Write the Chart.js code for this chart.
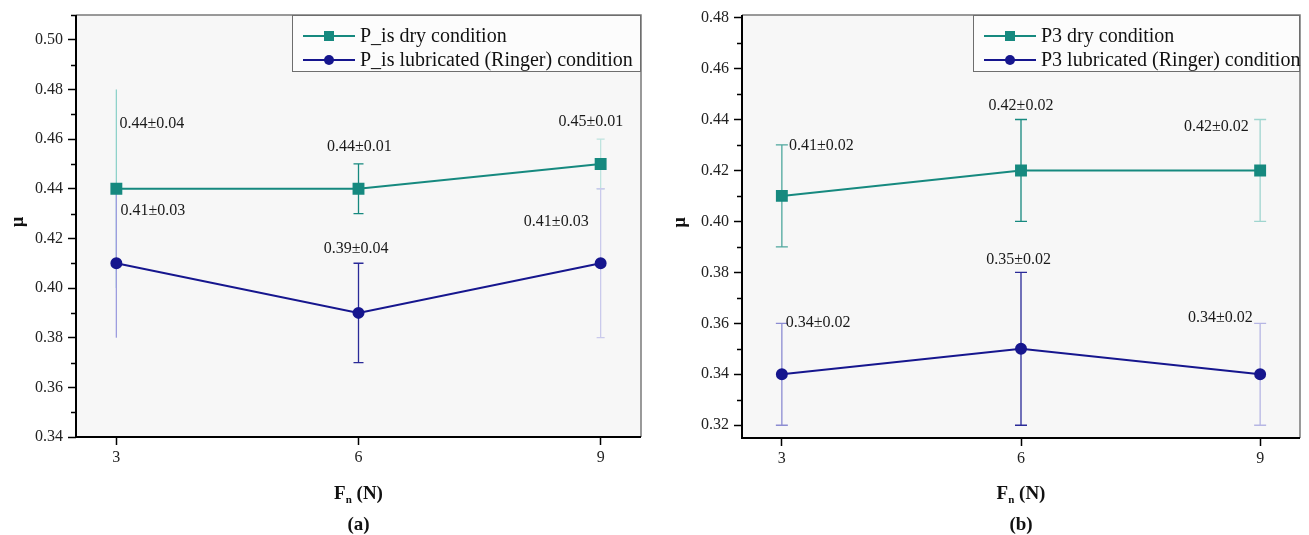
<!DOCTYPE html>
<html>
<head>
<meta charset="utf-8">
<script src="https://cdn.jsdelivr.net/npm/chart.js@4.4.0/dist/chart.umd.min.js"></script>
<style>
  body { margin: 0; background: #fff; }
  #wrap { position: relative; width: 1309px; height: 535px; }
  canvas { position: absolute; top: 0; }
</style>
</head>
<body>
<div id="wrap">
  <canvas id="chartA" width="650" height="535" style="left:0"></canvas>
  <canvas id="chartB" width="659" height="535" style="left:650px"></canvas>
</div>
<script>
// normal load Fn (N)
const loads = [3, 6, 9];

// panel (a): P_is
const dryA = [0.44, 0.44, 0.45];
const dryErrA = [0.04, 0.01, 0.01];
const lubA = [0.41, 0.39, 0.41];
const lubErrA = [0.03, 0.02, 0.03];
const dryTextA = ['0.44±0.04', '0.44±0.01', '0.45±0.01'];
const lubTextA = ['0.41±0.03', '0.39±0.04', '0.41±0.03'];

// panel (b): P3
const dryB = [0.41, 0.42, 0.42];
const dryErrB = [0.02, 0.02, 0.02];
const lubB = [0.34, 0.35, 0.34];
const lubErrB = [0.02, 0.03, 0.02];
const dryTextB = ['0.41±0.02', '0.42±0.02', '0.42±0.02'];
const lubTextB = ['0.34±0.02', '0.35±0.02', '0.34±0.02'];

const TEAL = '#16897f';
const NAVY = '#16168e';
const SERIF = '"Liberation Serif", "Times New Roman", serif';

const toPts = (ys) => loads.map((x, i) => ({ x: x, y: ys[i] }));

// draws background, error bars, value notes, frame, minor ticks, legend and titles
const panelPlugin = {
  id: 'panel',
  beforeDraw(chart, args, o) {
    const { ctx, chartArea: a } = chart;
    ctx.save();
    ctx.fillStyle = '#f7f7f7';
    ctx.fillRect(a.left, a.top, a.right - a.left, a.bottom - a.top);
    ctx.restore();
  },
  beforeDatasetsDraw(chart) {
    const { ctx, scales: { x, y } } = chart;
    ctx.save();
    chart.data.datasets.forEach(ds => {
      ds.data.forEach((p, i) => {
        const px = x.getPixelForValue(p.x);
        const top = y.getPixelForValue(p.y + ds.err[i]);
        const bot = y.getPixelForValue(p.y - ds.err[i]);
        ctx.strokeStyle = ds.errColors[i];
        ctx.lineWidth = 1.3;
        ctx.beginPath();
        ctx.moveTo(px, top); ctx.lineTo(px, bot);
        const c = ds.caps[i];
        if (c) {
          ctx.moveTo(px - c, top); ctx.lineTo(px + c, top);
          ctx.moveTo(px - c, bot); ctx.lineTo(px + c, bot);
        }
        ctx.stroke();
      });
    });
    ctx.restore();
  },
  afterDatasetsDraw(chart, args, o) {
    const { ctx, chartArea: a, scales: { x, y } } = chart;
    ctx.save();

    // value notes
    ctx.font = '16px ' + SERIF;
    ctx.fillStyle = '#1a1a1a';
    ctx.textBaseline = 'middle';
    chart.data.datasets.forEach(ds => {
      ds.notes.forEach((t, i) => {
        const [nx, ny, al] = ds.notePos[i];
        ctx.textAlign = al;
        ctx.fillText(t, x.getPixelForValue(nx), y.getPixelForValue(ny));
      });
    });

    // frame
    ctx.lineWidth = 1.5;
    ctx.strokeStyle = '#7a7a7a';
    ctx.beginPath();
    ctx.moveTo(a.left, a.top); ctx.lineTo(a.right, a.top); ctx.lineTo(a.right, a.bottom);
    ctx.stroke();
    ctx.lineWidth = 2;
    ctx.strokeStyle = '#000';
    ctx.beginPath();
    ctx.moveTo(a.left, a.top); ctx.lineTo(a.left, a.bottom); ctx.lineTo(a.right, a.bottom);
    ctx.stroke();

    // minor y ticks
    ctx.lineWidth = 1.5;
    ctx.beginPath();
    y.ticks.forEach(t => {
      if (Math.round(t.value * 100) % 2 !== 0) {
        const py = Math.round(y.getPixelForValue(t.value)) + 0.5;
        ctx.moveTo(a.left - 5, py); ctx.lineTo(a.left, py);
      }
    });
    ctx.stroke();

    // legend box
    const lg = o.legend;
    const bx = lg.x, by = a.top, bw = a.right - lg.x, bh = 57;
    ctx.fillStyle = 'rgba(252,252,252,0.9)';
    ctx.fillRect(bx, by, bw, bh);
    ctx.strokeStyle = '#6e6e6e';
    ctx.lineWidth = 1;
    ctx.strokeRect(bx + 0.5, by + 0.5, bw - 1, bh - 1);
    chart.data.datasets.forEach((ds, i) => {
      const ry = by + 21 + i * 24;
      ctx.strokeStyle = ds.borderColor;
      ctx.lineWidth = 2;
      ctx.beginPath();
      ctx.moveTo(bx + 11, ry); ctx.lineTo(bx + 63, ry);
      ctx.stroke();
      ctx.fillStyle = ds.borderColor;
      if (ds.pointStyle === 'rect') {
        ctx.fillRect(bx + 37 - 5, ry - 5, 10, 10);
      } else {
        ctx.beginPath();
        ctx.arc(bx + 37, ry, 5, 0, Math.PI * 2);
        ctx.fill();
      }
      ctx.fillStyle = '#111';
      ctx.font = '20px ' + SERIF;
      ctx.textAlign = 'left';
      ctx.textBaseline = 'middle';
      ctx.fillText(ds.label, bx + 68, ry + 1);
    });

    // axis titles
    ctx.fillStyle = '#111';
    ctx.save();
    ctx.translate(o.muX, (a.top + a.bottom) / 2 - 4);
    ctx.rotate(-Math.PI / 2);
    ctx.font = 'bold 18px ' + SERIF;
    ctx.textAlign = 'center';
    ctx.textBaseline = 'middle';
    ctx.fillText('μ', 0, 0);
    ctx.restore();

    const cx = (a.left + a.right) / 2;
    const big = 'bold 19px ' + SERIF, small = 'bold 11px ' + SERIF;
    ctx.font = big; const wF = ctx.measureText('F').width;
    const wR = ctx.measureText(' (N)').width;
    ctx.font = small; const wn = ctx.measureText('n').width;
    let sx = cx - (wF + wn + wR) / 2;
    ctx.textAlign = 'left';
    ctx.textBaseline = 'alphabetic';
    ctx.font = big; ctx.fillText('F', sx, 499);
    ctx.font = small; ctx.fillText('n', sx + wF, 503);
    ctx.font = big; ctx.fillText(' (N)', sx + wF + wn, 499);
    ctx.textAlign = 'center';
    ctx.fillText(o.tag, cx, 530);

    ctx.restore();
  }
};

function makePanel(id, cfg) {
  const tickFont = { family: SERIF, size: 16 };
  return new Chart(document.getElementById(id), {
    type: 'line',
    data: {
      datasets: [
        {
          label: cfg.names[0],
          data: toPts(cfg.dry),
          err: cfg.dryErr,
          errColors: cfg.dryErrColors,
          caps: cfg.caps,
          notes: cfg.dryText,
          notePos: cfg.dryNotePos,
          borderColor: TEAL,
          backgroundColor: TEAL,
          borderWidth: 2,
          pointStyle: 'rect',
          pointRadius: 7,
          tension: 0
        },
        {
          label: cfg.names[1],
          data: toPts(cfg.lub),
          err: cfg.lubErr,
          errColors: cfg.lubErrColors,
          caps: cfg.caps,
          notes: cfg.lubText,
          notePos: cfg.lubNotePos,
          borderColor: NAVY,
          backgroundColor: NAVY,
          borderWidth: 2,
          pointStyle: 'circle',
          pointRadius: 5,
          tension: 0
        }
      ]
    },
    options: {
      responsive: false,
      animation: false,
      events: [],
      layout: { padding: { top: 15, right: cfg.padRight, left: 0, bottom: 0 } },
      plugins: {
        legend: { display: false },
        tooltip: { enabled: false },
        panel: { legend: { x: cfg.legendX }, muX: cfg.muX, tag: cfg.tag }
      },
      scales: {
        x: {
          type: 'linear',
          min: 2.5,
          max: 9.5,
          afterBuildTicks: s => { s.ticks = loads.map(v => ({ value: v })); },
          afterFit: s => { s.height = cfg.xHeight; },
          border: { display: false },
          grid: { drawOnChartArea: false, drawTicks: true, tickLength: 8, tickColor: '#000', tickWidth: 1.5 },
          ticks: { font: tickFont, color: '#222', padding: 3, maxRotation: 0, autoSkip: false }
        },
        y: {
          min: cfg.yMin,
          max: cfg.yMax,
          afterFit: s => { s.width = cfg.yWidth; },
          border: { display: false },
          grid: {
            drawOnChartArea: false,
            drawTicks: true,
            tickLength: 8,
            tickWidth: 1.5,
            tickColor: c => (Math.round(c.tick.value * 100) % 2 === 0 ? '#000' : 'rgba(0,0,0,0)')
          },
          ticks: {
            stepSize: 0.01,
            includeBounds: false,
            autoSkip: false,
            font: tickFont,
            color: '#222',
            padding: 5,
            callback: v => (Math.round(v * 100) % 2 === 0 ? v.toFixed(2) : '')
          }
        }
      }
    },
    plugins: [panelPlugin]
  });
}

makePanel('chartA', {
  names: ['P_is dry condition', 'P_is lubricated (Ringer) condition'],
  dry: dryA, dryErr: dryErrA, dryText: dryTextA,
  lub: lubA, lubErr: lubErrA, lubText: lubTextA,
  dryErrColors: ['#8fd2ca', TEAL, '#bfe4df'],
  lubErrColors: ['#9d9ddf', '#2a2a98', '#cacaec'],
  caps: [0, 5, 4],
  dryNotePos: [[3.04, 0.466, 'left'], [6.01, 0.457, 'center'], [8.88, 0.467, 'center']],
  lubNotePos: [[3.05, 0.431, 'left'], [5.97, 0.4157, 'center'], [8.45, 0.4266, 'center']],
  yMin: 0.34, yMax: 0.51,
  yWidth: 76, xHeight: 98, padRight: 8,
  legendX: 292, muX: 18, tag: '(a)'
});

makePanel('chartB', {
  names: ['P3 dry condition', 'P3 lubricated (Ringer) condition'],
  dry: dryB, dryErr: dryErrB, dryText: dryTextB,
  lub: lubB, lubErr: lubErrB, lubText: lubTextB,
  dryErrColors: ['#4ea79d', TEAL, '#9fd5cf'],
  lubErrColors: ['#8c8cd2', '#2a2a98', '#b6b6e4'],
  caps: [6, 6, 6],
  dryNotePos: [[3.09, 0.4298, 'left'], [6.0, 0.4455, 'center'], [8.45, 0.4373, 'center']],
  lubNotePos: [[3.05, 0.3604, 'left'], [5.97, 0.3851, 'center'], [8.5, 0.362, 'center']],
  yMin: 0.315, yMax: 0.481,
  yWidth: 92, xHeight: 97, padRight: 4,
  legendX: 323, muX: 30, tag: '(b)'
});
</script>
</body>
</html>
